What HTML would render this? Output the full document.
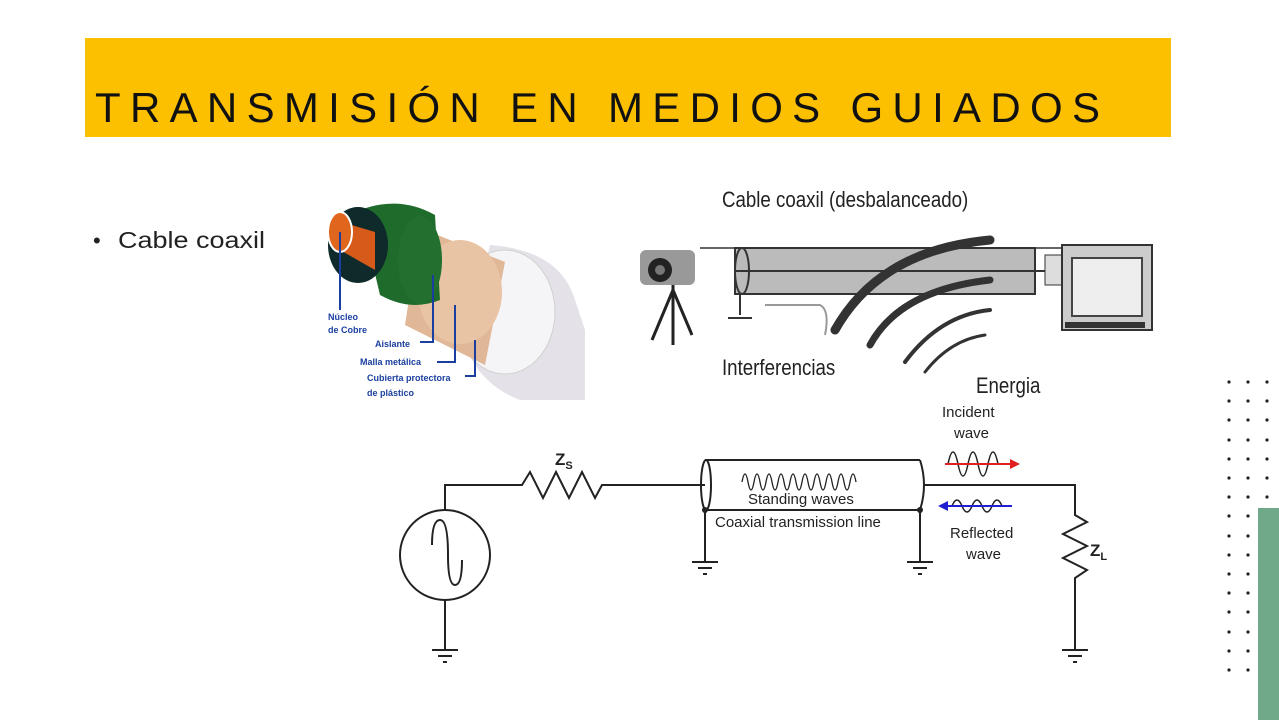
<!DOCTYPE html>
<html><head><meta charset="utf-8"><style>
html,body{margin:0;padding:0;background:#fff;}
svg{display:block;font-family:"Liberation Sans",sans-serif;}
</style></head><body>
<svg width="1279" height="720" viewBox="0 0 1279 720" xmlns="http://www.w3.org/2000/svg">
<rect x="85" y="38" width="1086" height="99" fill="#fcc000"/>
<text x="95" y="122" font-size="42" fill="#111" textLength="1005" lengthAdjust="spacing">TRANSMISIÓN EN MEDIOS GUIADOS</text>
<text x="93" y="248" font-size="22" fill="#222">•</text>
<text x="118" y="248" font-size="23" fill="#222" textLength="147" lengthAdjust="spacingAndGlyphs">Cable coaxil</text>

<g fill="#222">
<circle cx="1229" cy="382" r="1.6"/><circle cx="1248" cy="382" r="1.6"/><circle cx="1267" cy="382" r="1.6"/>
<circle cx="1229" cy="401" r="1.6"/><circle cx="1248" cy="401" r="1.6"/><circle cx="1267" cy="401" r="1.6"/>
<circle cx="1229" cy="420" r="1.6"/><circle cx="1248" cy="420" r="1.6"/><circle cx="1267" cy="420" r="1.6"/>
<circle cx="1229" cy="440" r="1.6"/><circle cx="1248" cy="440" r="1.6"/><circle cx="1267" cy="440" r="1.6"/>
<circle cx="1229" cy="459" r="1.6"/><circle cx="1248" cy="459" r="1.6"/><circle cx="1267" cy="459" r="1.6"/>
<circle cx="1229" cy="478" r="1.6"/><circle cx="1248" cy="478" r="1.6"/><circle cx="1267" cy="478" r="1.6"/>
<circle cx="1229" cy="497" r="1.6"/><circle cx="1248" cy="497" r="1.6"/><circle cx="1267" cy="497" r="1.6"/>
<circle cx="1229" cy="516" r="1.6"/><circle cx="1248" cy="516" r="1.6"/>
<circle cx="1229" cy="536" r="1.6"/><circle cx="1248" cy="536" r="1.6"/>
<circle cx="1229" cy="555" r="1.6"/><circle cx="1248" cy="555" r="1.6"/>
<circle cx="1229" cy="574" r="1.6"/><circle cx="1248" cy="574" r="1.6"/>
<circle cx="1229" cy="593" r="1.6"/><circle cx="1248" cy="593" r="1.6"/>
<circle cx="1229" cy="612" r="1.6"/><circle cx="1248" cy="612" r="1.6"/>
<circle cx="1229" cy="632" r="1.6"/><circle cx="1248" cy="632" r="1.6"/>
<circle cx="1229" cy="651" r="1.6"/><circle cx="1248" cy="651" r="1.6"/>
<circle cx="1229" cy="670" r="1.6"/><circle cx="1248" cy="670" r="1.6"/>
</g>
<rect x="1258" y="508" width="21" height="212" fill="#6fa98a"/>

<!-- coax cable image -->
<g>
<path d="M490 245 Q560 250 575 300 L585 330 L585 400 L520 400 Q480 385 465 345 Z" fill="#e4e2e8"/>
<ellipse cx="505" cy="312" rx="50" ry="62" fill="#f5f4f6" stroke="#d0d0d0"/>
<path d="M420 228 L505 262 L485 365 L405 325 Z" fill="#e0b898"/>
<ellipse cx="460" cy="292" rx="42" ry="52" fill="#e8c4a4"/>
<path d="M360 210 Q400 195 435 215 L440 300 Q410 312 380 295 Z" fill="#1f6b2c"/>
<ellipse cx="420" cy="260" rx="22" ry="44" fill="#236f30"/>
<ellipse cx="358" cy="245" rx="30" ry="38" fill="#0f2a2a"/>
<path d="M335 220 L375 232 L375 270 L340 250 Z" fill="#d65a1a"/>
<ellipse cx="340" cy="232" rx="12" ry="20" fill="#e0661e" stroke="#fff" stroke-width="2"/>
<g stroke="#1a3fa0" stroke-width="2" fill="none">
<path d="M340 232 V310"/><path d="M433 275 V342 H420"/><path d="M455 305 V362 H437"/><path d="M475 340 V376 H465"/>
</g>
<g font-size="9" fill="#1a3fa0" font-weight="bold">
<text x="328" y="320">Núcleo</text><text x="328" y="333">de Cobre</text>
<text x="375" y="347">Aislante</text><text x="360" y="365">Malla metálica</text>
<text x="367" y="381">Cubierta protectora</text><text x="367" y="396">de plástico</text>
</g>
</g>

<!-- camera/TV image -->
<g>
<text x="722" y="207" font-size="22" fill="#222" transform="translate(722 0) scale(0.85 1) translate(-722 0)">Cable coaxil (desbalanceado)</text>
<rect x="735" y="248" width="300" height="46" fill="#bbb" stroke="#333" stroke-width="2"/>
<line x1="735" y1="271" x2="1055" y2="271" stroke="#333" stroke-width="2"/>
<line x1="700" y1="248" x2="1065" y2="248" stroke="#333" stroke-width="1.5"/>
<ellipse cx="742" cy="271" rx="7" ry="23" fill="none" stroke="#333" stroke-width="2"/>
<rect x="640" y="250" width="55" height="35" rx="6" fill="#999"/>
<circle cx="660" cy="270" r="12" fill="#222"/><circle cx="660" cy="270" r="5" fill="#777"/>
<g stroke="#222" stroke-width="3"><line x1="673" y1="285" x2="673" y2="345"/><line x1="673" y1="290" x2="652" y2="340"/><line x1="673" y1="290" x2="692" y2="335"/></g>
<path d="M740 294 V315 M728 318 H752" stroke="#333" stroke-width="2"/>
<path d="M765 305 H820 Q830 310 825 335" fill="none" stroke="#999" stroke-width="2"/>
<g fill="none" stroke="#333" stroke-linecap="round">
<path d="M835 330 Q880 250 990 240" stroke-width="9"/>
<path d="M870 345 Q900 290 990 280" stroke-width="7"/>
<path d="M905 362 Q940 315 990 310" stroke-width="4"/>
<path d="M925 372 Q950 340 985 335" stroke-width="3"/>
</g>
<rect x="1045" y="255" width="18" height="30" fill="#ddd" stroke="#333"/>
<rect x="1062" y="245" width="90" height="85" fill="#ccc" stroke="#333" stroke-width="2"/>
<rect x="1072" y="258" width="70" height="58" fill="#eee" stroke="#444" stroke-width="2"/>
<rect x="1065" y="322" width="80" height="6" fill="#333"/>
<text x="722" y="375" font-size="22" fill="#222" transform="translate(722 0) scale(0.85 1) translate(-722 0)">Interferencias</text>
<text x="976" y="393" font-size="22" fill="#222" transform="translate(976 0) scale(0.85 1) translate(-976 0)">Energia</text>
</g>

<!-- circuit -->
<g stroke="#222" stroke-width="2" fill="none">
<path d="M445 510 V485 H522 L530 472 L543 498 L556 472 L569 498 L582 472 L595 498 L602 485 H705"/>
<circle cx="445" cy="555" r="45"/>
<path d="M432 545 Q432 520 440 520 Q448 520 448 555 Q448 585 455 585 Q462 585 462 560"/>
<path d="M445 600 V650 M432 650 H458 M438 656 H452 M443 662 H447"/>
<path d="M705 460 H920 M705 510 H920"/>
<ellipse cx="706" cy="485" rx="5" ry="25"/>
<path d="M920 460 Q928 485 920 510"/>
<path d="M705 510 V562 M692 562 H718 M698 568 H712 M703 574 H707"/>
<path d="M920 510 V562 M907 562 H933 M913 568 H927 M918 574 H922"/>
<path d="M925 485 H1075 V515 L1087 522 L1063 534 L1087 546 L1063 558 L1087 570 L1075 578 V650 M1062 650 H1088 M1068 656 H1082 M1073 662 H1077"/>
<path d="M742 482 q3 -16 6 0 t6 0 t6 0 t6 0 t6 0 t6 0 t6 0 t6 0 t6 0 t6 0 t6 0 t6 0 t6 0 t6 0 t6 0 t6 0 t6 0 t6 0 t6 0" stroke-width="1.3"/>
<path d="M948 464 q5 -24 10 0 t10 0 t10 0 t10 0 t10 0" stroke-width="1.5"/>
<path d="M952 506 q5 -12 10 0 t10 0 t10 0 t10 0 t10 0" stroke-width="1.5"/>
</g>
<circle cx="705" cy="510" r="3" fill="#222"/><circle cx="920" cy="510" r="3" fill="#222"/>
<path d="M945 464 H1012" stroke="#e02020" stroke-width="2"/><path d="M1020 464 L1010 459 L1010 469 Z" fill="#e02020"/>
<path d="M945 506 H1012" stroke="#2020d0" stroke-width="2"/><path d="M938 506 L948 501 L948 511 Z" fill="#2020d0"/>
<g fill="#222" font-size="15">
<text x="555" y="465" font-size="17" font-weight="bold">Z<tspan font-size="11" dy="4">S</tspan></text>
<text x="1090" y="556" font-size="17" font-weight="bold">Z<tspan font-size="11" dy="4">L</tspan></text>
<text x="748" y="504">Standing waves</text>
<text x="715" y="527">Coaxial transmission line</text>
<text x="942" y="417">Incident</text><text x="954" y="438">wave</text>
<text x="950" y="538">Reflected</text><text x="966" y="559">wave</text>
</g>
</svg>
</body></html>
